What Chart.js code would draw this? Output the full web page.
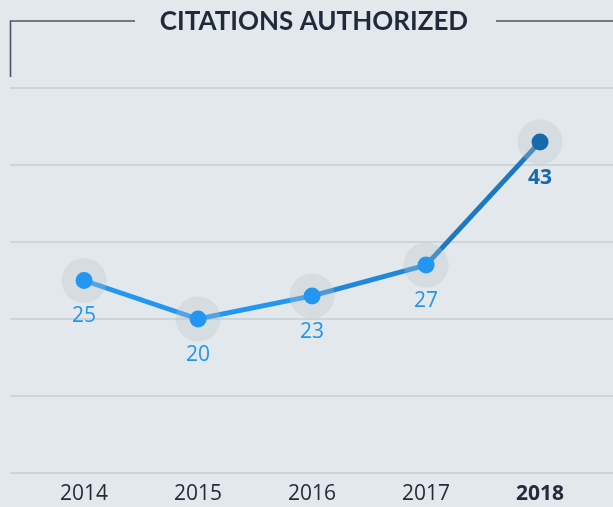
<!DOCTYPE html>
<html>
<head>
<meta charset="utf-8">
<script src="https://cdn.jsdelivr.net/npm/chart.js@4"></script>
<style>
  html, body { margin: 0; padding: 0; background: #e2e8eb; }
  #wrap { width: 613px; height: 507px; position: relative; }
</style>
</head>
<body>
<div id="wrap"><canvas id="grafico" width="613" height="507"></canvas></div>
<script>
const anos = [2014, 2015, 2016, 2017, 2018];
const citacoes = [25, 20, 23, 27, 43];
const titulo = 'CITATIONS AUTHORIZED';

const azul = '#2196f3';
const azulEscuro = '#1769ab';
const ultimo = anos.length - 1;

const pontos = anos.map((ano, i) => ({ x: ano, y: citacoes[i] }));

// titulo com a moldura em volta
const pluginTitulo = {
  id: 'titulo',
  beforeDraw(chart) {
    const ctx = chart.ctx;
    ctx.save();
    ctx.font = 'bold 26px Lato';
    ctx.fillStyle = '#1f2b3b';
    ctx.textAlign = 'center';
    ctx.textBaseline = 'middle';
    ctx.fillText(titulo, 314, 22);
    ctx.strokeStyle = '#4a5668';
    ctx.lineWidth = 1.6;
    ctx.beginPath();
    ctx.moveTo(10.5, 77);
    ctx.lineTo(10.5, 21);
    ctx.lineTo(135, 21);
    ctx.moveTo(496, 21);
    ctx.lineTo(613, 21);
    ctx.stroke();
    ctx.restore();
  }
};

// rotulos de valor abaixo de cada ponto
const pluginRotulos = {
  id: 'rotulos',
  afterDatasetsDraw(chart) {
    const ctx = chart.ctx;
    const meta = chart.getDatasetMeta(0);
    ctx.save();
    ctx.textAlign = 'center';
    ctx.textBaseline = 'middle';
    meta.data.forEach((p, i) => {
      if (i === ultimo) {
        ctx.font = 'bold 21px "Open Sans"';
        ctx.fillStyle = azulEscuro;
      } else {
        ctx.font = '21px "Open Sans"';
        ctx.fillStyle = azul;
      }
      ctx.fillText(citacoes[i], p.x, p.y + 36);
    });
    ctx.restore();
  }
};

new Chart(document.getElementById('grafico').getContext('2d'), {
  type: 'line',
  data: {
    datasets: [
      {
        data: pontos,
        showLine: false,
        pointRadius: 8.5,
        pointHoverRadius: 8.5,
        pointBorderWidth: 0,
        pointBackgroundColor: ctx => ctx.dataIndex === ultimo ? azulEscuro : azul
      },
      {
        data: pontos,
        showLine: false,
        pointRadius: 22.5,
        pointHoverRadius: 22.5,
        pointBorderWidth: 0,
        pointBackgroundColor: 'rgba(185, 197, 202, 0.3)'
      },
      {
        data: pontos,
        pointRadius: 0,
        borderWidth: 5,
        borderColor: azul,
        segment: {
          borderColor: ctx => ctx.p1DataIndex === ultimo ? '#1c78c0' : (ctx.p1DataIndex === 3 ? '#2088dc' : azul)
        }
      }
    ]
  },
  plugins: [pluginTitulo, pluginRotulos],
  options: {
    responsive: false,
    animation: false,
    layout: { autoPadding: false, padding: { left: 10, right: 0, top: 88, bottom: 0 } },
    plugins: {
      legend: { display: false },
      tooltip: { enabled: false }
    },
    scales: {
      x: {
        type: 'linear',
        min: 2013.35,
        max: 2018.64,
        afterBuildTicks: scale => { scale.ticks = anos.map(v => ({ value: v })); },
        afterFit: scale => { scale.paddingLeft = 0; scale.paddingRight = 0; scale.height = 34; },
        grid: { display: false, drawTicks: false },
        border: { display: false },
        ticks: {
          padding: 8,
          color: '#222c3a',
          font: ctx => ctx.tick && ctx.tick.value === anos[ultimo]
            ? { family: '"Open Sans"', size: 21, weight: 'bold' }
            : { family: '"Open Sans"', size: 21 },
          callback: v => String(v)
        }
      },
      y: {
        min: 0,
        max: 50,
        afterFit: scale => { scale.width = 0; },
        ticks: { stepSize: 10, display: false },
        grid: { color: '#ccd5d8', lineWidth: 2, drawTicks: false },
        border: { display: false }
      }
    }
  }
});
</script>
</body>
</html>
